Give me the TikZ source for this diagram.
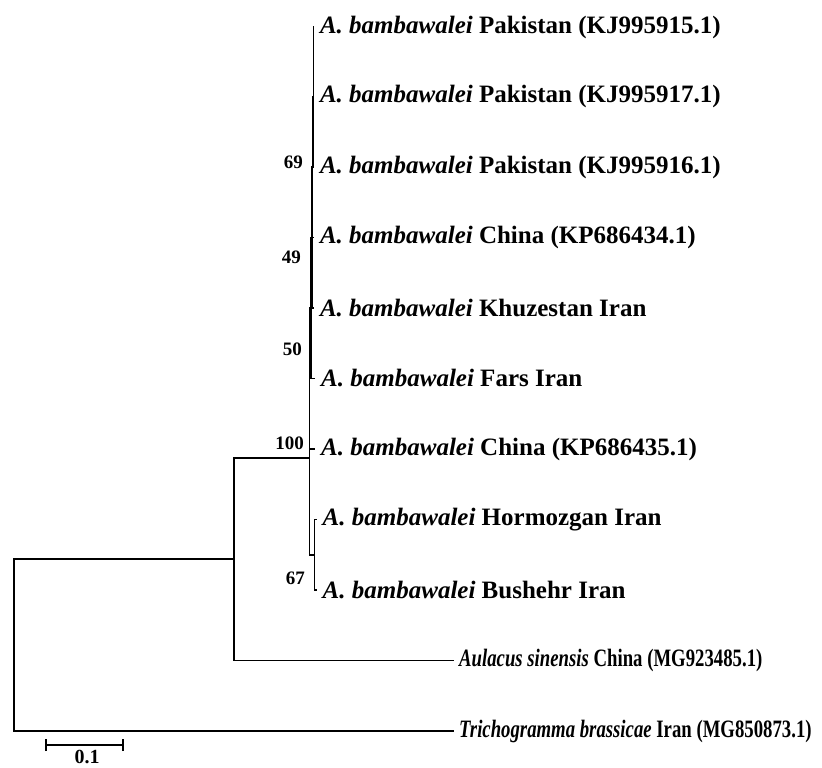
\documentclass[tikz,border=0pt]{standalone}
\usepackage{graphicx}
\usepackage{fontspec}
\setmainfont{Liberation Serif}
\newcommand{\bamb}{\textit{A. bambawalei}}
\newcommand{\narrow}[1]{\scalebox{0.75}[1]{#1}}
\tikzset{
  branch/.style={line width=1.1pt},
  taxon/.style={anchor=west,inner sep=0pt,font=\fontsize{25}{27}\selectfont\bfseries},
  boot/.style={anchor=east,inner sep=0pt,font=\fontsize{19}{21}\selectfont\bfseries},
}
\begin{document}
\begin{tikzpicture}[x=1pt,y=-1pt]
\useasboundingbox (0,0) rectangle (822,768);
% inner nodes of the tree
\coordinate (root) at (14,645);
\coordinate (ing) at (234,559);
\coordinate (n100) at (309.5,458);
\coordinate (n50) at (311,308);
\coordinate (n49) at (312,237.5);
\coordinate (n69) at (312.7,167);
\coordinate (pak) at (313.2,96.5);
\coordinate (n67) at (314.5,555);
% tips
\coordinate (t1) at (313.8,27);
\coordinate (t2) at (313.8,96.5);
\coordinate (t3) at (313.8,167);
\coordinate (t4) at (313.8,237.5);
\coordinate (t5) at (313.8,308);
\coordinate (t6) at (315,378.5);
\coordinate (t7) at (315,449);
\coordinate (t8) at (316.5,519.5);
\coordinate (t9) at (316.5,590);
\coordinate (t10) at (454,660.5);
\coordinate (t11) at (454,731);
% branches
\draw[branch] (root) |- (ing);
\draw[branch] (root) |- (t11);
\draw[branch] (ing) |- (n100);
\draw[branch] (ing) |- (t10);
\draw[branch] (n100) |- (n50);
\draw[branch] (n100) |- (t7);
\draw[branch] (n100) |- (n67);
\draw[branch] (n50) |- (n49);
\draw[branch] (n50) |- (t6);
\draw[branch] (n49) |- (n69);
\draw[branch] (n49) |- (t5);
\draw[branch] (n69) |- (pak);
\draw[branch] (n69) |- (t4);
\foreach \t in {t1,t2,t3}
  \draw[branch] (pak) |- (\t);
\draw[branch] (n67) |- (t8);
\draw[branch] (n67) |- (t9);
% taxa
\node[taxon] (l1) at ([xshift=6pt]t1) {\bamb\ Pakistan (KJ995915.1)};
\node[taxon] (l2) at ([xshift=6pt]t2) {\bamb\ Pakistan (KJ995917.1)};
\node[taxon] (l3) at ([xshift=6pt]t3) {\bamb\ Pakistan (KJ995916.1)};
\node[taxon] (l4) at ([xshift=6pt]t4) {\bamb\ China (KP686434.1)};
\node[taxon] (l5) at ([xshift=6pt]t5) {\bamb\ Khuzestan Iran};
\node[taxon] (l6) at ([xshift=6pt]t6) {\bamb\ Fars Iran};
\node[taxon] (l7) at ([xshift=6pt]t7) {\bamb\ China (KP686435.1)};
\node[taxon] (l8) at ([xshift=6pt]t8) {\bamb\ Hormozgan Iran};
\node[taxon] (l9) at ([xshift=6pt]t9) {\bamb\ Bushehr Iran};
\node[taxon] (l10) at ([xshift=5pt]t10) {\narrow{\textit{Aulacus sinensis} China (MG923485.1)}};
\node[taxon] (l11) at ([xshift=5pt]t11) {\narrow{\textit{Trichogramma brassicae} Iran (MG850873.1)}};
% bootstrap values
\node[boot] (b69) at (303,162) {69};
\node[boot] (b49) at (301,257) {49};
\node[boot] (b50) at (302,349) {50};
\node[boot] (b100) at (304,443) {100};
\node[boot] (b67) at (305,578) {67};
% scale bar
\coordinate (s0) at (46,745);
\coordinate (s1) at (123,745);
\draw[branch] (s0) -- (s1);
\draw[branch] ([yshift=-6pt]s0) -- ([yshift=6pt]s0);
\draw[branch] ([yshift=-6pt]s1) -- ([yshift=6pt]s1);
\node[font=\fontsize{20}{22}\selectfont\bfseries,inner sep=0pt] (sl) at (87,757) {0.1};
\end{tikzpicture}
\end{document}
